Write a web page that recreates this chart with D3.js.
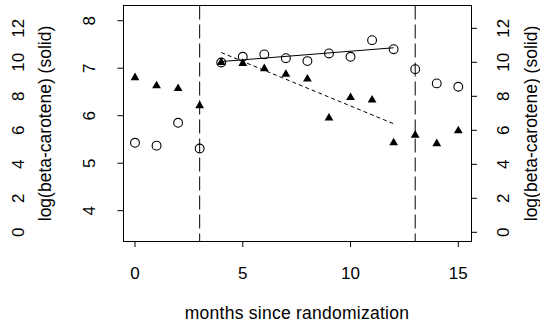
<!DOCTYPE html>
<html>
<head>
<meta charset="utf-8">
<script src="https://cdn.jsdelivr.net/npm/d3@7"></script>
<style>
  html, body { margin: 0; padding: 0; background: #fff; }
  svg { display: block; }
  text { font-family: "Liberation Sans", Arial, Helvetica, sans-serif; fill: #000; }
</style>
</head>
<body>
<svg id="chart" width="540" height="328"></svg>
<script>
// Monthly observations
const months = [0, 1, 2, 3, 4, 5, 6, 7, 8, 9, 10, 11, 12, 13, 14, 15];
const openValues = [5.43, 5.37, 5.85, 5.31, 7.12, 7.24, 7.29, 7.21, 7.15, 7.31, 7.24, 7.59, 7.40, 6.98, 6.68, 6.61];
const filledValues = [6.82, 6.65, 6.59, 6.23, 7.14, 7.12, 7.01, 6.89, 6.79, 5.97, 6.40, 6.35, 5.45, 5.61, 5.43, 5.70];

// Fitted trends over the treatment period (months 4-12)
const fitMonths = [4, 12];
const solidFit = [7.14, 7.43];
const dashedFit = [7.33, 5.83];

// Period boundaries
const cutoffs = [3, 13];

// Tick labels
const xTicks = [0, 5, 10, 15];
const innerTicks = [4, 5, 6, 7, 8];
const outerTicks = [0, 2, 4, 6, 8, 10, 12];
const yTitle = "log(beta-carotene) (solid)";
const xTitle = "months since randomization";

const svg = d3.select("#chart");
const box = { left: 123.5, right: 471.5, top: 5.5, bottom: 241.5 };

const x = d3.scaleLinear().domain([0, 15]).range([135, 458.3]);
const yIn = d3.scaleLinear().domain([4, 8]).range([210.7, 20.7]);
const yOut = d3.scaleLinear().domain([0, 12]).range([232.3, 28.3]);

const fs = 17;
const fsTitle = 17.5;

// Plot frame
svg.append("rect")
  .attr("x", box.left).attr("y", box.top)
  .attr("width", box.right - box.left).attr("height", box.bottom - box.top)
  .attr("fill", "none").attr("stroke", "#000").attr("stroke-width", 1);

// Bottom axis
const xAxis = svg.append("g");
xAxis.append("line")
  .attr("x1", x(xTicks[0])).attr("x2", x(xTicks[xTicks.length - 1]))
  .attr("y1", box.bottom).attr("y2", box.bottom)
  .attr("stroke", "#000");
xAxis.selectAll("line.tick").data(xTicks).join("line")
  .attr("class", "tick")
  .attr("x1", d => x(d)).attr("x2", d => x(d))
  .attr("y1", box.bottom).attr("y2", box.bottom + 5.5)
  .attr("stroke", "#000");
xAxis.selectAll("text").data(xTicks).join("text")
  .attr("x", d => x(d)).attr("y", 279.3)
  .attr("text-anchor", "middle").attr("font-size", fs)
  .text(d => d);
svg.append("text")
  .attr("x", 297).attr("y", 319)
  .attr("text-anchor", "middle").attr("font-size", fsTitle)
  .attr("letter-spacing", 0.25)
  .text(xTitle);

// Left inner axis
const leftAxis = svg.append("g");
leftAxis.selectAll("line").data(innerTicks).join("line")
  .attr("x1", box.left - 6).attr("x2", box.left)
  .attr("y1", d => yIn(d)).attr("y2", d => yIn(d))
  .attr("stroke", "#000");
leftAxis.selectAll("text").data(innerTicks).join("text")
  .attr("transform", d => `translate(95,${yIn(d)}) rotate(-90)`)
  .attr("text-anchor", "middle").attr("font-size", fs)
  .text(d => d);

// Left outer labels and title
svg.selectAll("text.outerL").data(outerTicks).join("text")
  .attr("class", "outerL")
  .attr("transform", d => `translate(23.5,${yOut(d)}) rotate(-90)`)
  .attr("text-anchor", "middle").attr("font-size", fs)
  .text(d => d);
svg.append("text")
  .attr("transform", `translate(50.5,${(box.top + box.bottom) / 2}) rotate(-90)`)
  .attr("text-anchor", "middle").attr("font-size", fsTitle)
  .text(yTitle);

// Right axis
const rightAxis = svg.append("g");
rightAxis.selectAll("line").data(outerTicks).join("line")
  .attr("x1", box.right).attr("x2", box.right + 5.5)
  .attr("y1", d => yOut(d)).attr("y2", d => yOut(d))
  .attr("stroke", "#000");
rightAxis.selectAll("text").data(outerTicks).join("text")
  .attr("transform", d => `translate(508.5,${yOut(d)}) rotate(-90)`)
  .attr("text-anchor", "middle").attr("font-size", fs)
  .text(d => d);
svg.append("text")
  .attr("transform", `translate(536.5,${(box.top + box.bottom) / 2}) rotate(-90)`)
  .attr("text-anchor", "middle").attr("font-size", fsTitle)
  .text(yTitle);

// Open circles
svg.append("g").selectAll("circle").data(months).join("circle")
  .attr("cx", (d, i) => x(d)).attr("cy", (d, i) => yIn(openValues[i]))
  .attr("r", 4.4)
  .attr("fill", "none").attr("stroke", "#000").attr("stroke-width", 1.1);

// Filled triangles
const tri = "M0,-4.2L4.4,3.4L-4.4,3.4Z";
svg.append("g").selectAll("path").data(months).join("path")
  .attr("transform", (d, i) => `translate(${x(d)},${yIn(filledValues[i])})`)
  .attr("d", tri)
  .attr("fill", "#000");

// Trend lines
const line = d3.line().x(d => x(d[0])).y(d => yIn(d[1]));
svg.append("path")
  .attr("d", line(fitMonths.map((m, i) => [m, solidFit[i]])))
  .attr("fill", "none").attr("stroke", "#000").attr("stroke-width", 1);
svg.append("path")
  .attr("d", line(fitMonths.map((m, i) => [m, dashedFit[i]])))
  .attr("fill", "none").attr("stroke", "#000").attr("stroke-width", 1)
  .attr("stroke-dasharray", "4,3");

// Period boundaries
svg.append("g").selectAll("line").data(cutoffs).join("line")
  .attr("x1", d => x(d)).attr("x2", d => x(d))
  .attr("y1", box.top).attr("y2", box.bottom)
  .attr("stroke", "#000").attr("stroke-width", 1)
  .attr("stroke-dasharray", "14,5");
</script>
</body>
</html>
